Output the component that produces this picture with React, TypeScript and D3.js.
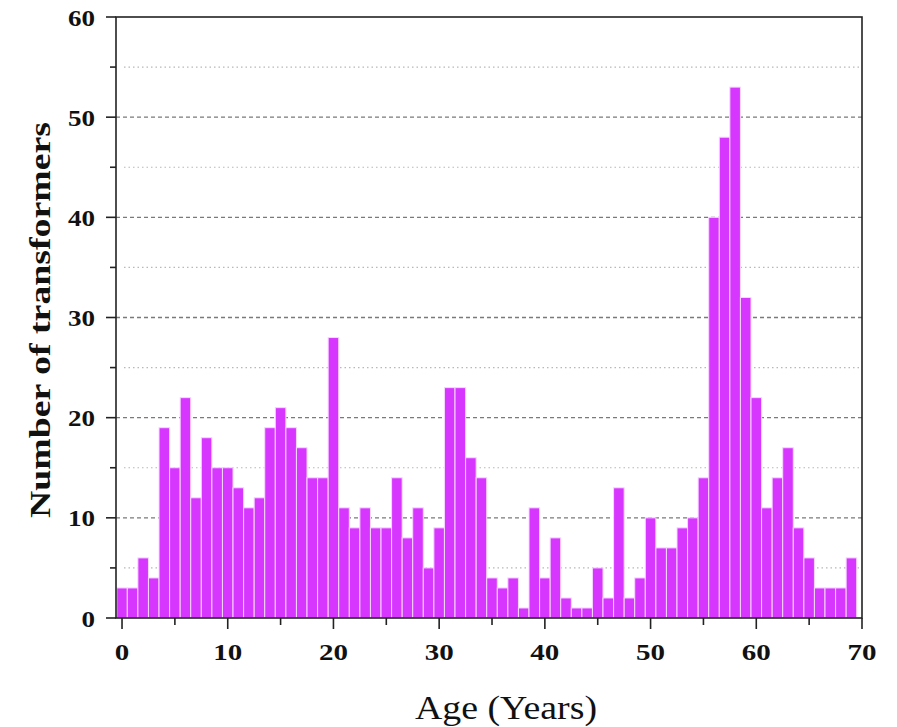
import React from "react";
import * as d3 from "d3";

// Transformer counts by age in years (ages 0..69)
const ages: number[] = d3.range(0, 70);
const counts: number[] = [
  3, 3, 6, 4, 19, 15, 22, 12, 18, 15,
  15, 13, 11, 12, 19, 21, 19, 17, 14, 14,
  28, 11, 9, 11, 9, 9, 14, 8, 11, 5,
  9, 23, 23, 16, 14, 4, 3, 4, 1, 11,
  4, 8, 2, 1, 1, 5, 2, 13, 2, 4,
  10, 7, 7, 9, 10, 14, 40, 48, 53, 32,
  22, 11, 14, 17, 9, 6, 3, 3, 3, 6,
];
const xTicks: number[] = [0, 10, 20, 30, 40, 50, 60, 70];
const xMinorTicks: number[] = [5, 15, 25, 35, 45, 55, 65];
const yTicks: number[] = [0, 10, 20, 30, 40, 50, 60];
const yMinorTicks: number[] = [5, 15, 25, 35, 45, 55];

const W = 897;
const H = 727;
const plot = { left: 116, right: 862, top: 17, bottom: 618 };
const barColor = "#D736FF";
const serif = "'Liberation Serif', 'Times New Roman', serif";

export default function App() {
  const x = d3.scaleLinear().domain([-0.57, 70]).range([plot.left, plot.right]);
  const y = d3.scaleLinear().domain([0, 60]).range([plot.bottom, plot.top]);

  return (
    <svg
      width={W}
      height={H}
      style={{ position: "absolute", left: 0, top: 0, background: "#fff" }}
    >
      <defs>
        <clipPath id="plotClip">
          <rect x={plot.left} y={plot.top} width={plot.right - plot.left} height={plot.bottom - plot.top} />
        </clipPath>
      </defs>

      {/* grid */}
      {yMinorTicks.map((v) => (
        <line
          key={"gm" + v}
          x1={plot.left + 8}
          x2={plot.right}
          y1={y(v)}
          y2={y(v)}
          stroke="#b8b8b8"
          strokeWidth={1.2}
          strokeDasharray="1.5,3"
        />
      ))}
      {yTicks
        .filter((v) => v > 0 && v < 60)
        .map((v) => (
          <line
            key={"gM" + v}
            x1={plot.left}
            x2={plot.right}
            y1={y(v)}
            y2={y(v)}
            stroke="#7a7a7a"
            strokeWidth={1.3}
            strokeDasharray="4,3"
          />
        ))}

      {/* bars */}
      <g clipPath="url(#plotClip)">
        {ages.map((a, i) => (
          <rect
            key={a}
            x={x(a - 0.5)}
            y={y(counts[i])}
            width={x(a + 0.5) - x(a - 0.5)}
            height={y(0) - y(counts[i])}
            fill={barColor}
            stroke="#f6d8ff"
            strokeWidth={1}
          />
        ))}
      </g>

      {/* frame */}
      <rect
        x={plot.left}
        y={plot.top}
        width={plot.right - plot.left}
        height={plot.bottom - plot.top}
        fill="none"
        stroke="#222"
        strokeWidth={1.6}
      />

      {/* y axis ticks */}
      {yTicks.map((v) => (
        <g key={"yt" + v}>
          <line x1={plot.left - 10} x2={plot.left} y1={y(v)} y2={y(v)} stroke="#222" strokeWidth={1.6} />
          <text
            x={95}
            y={y(v)}
            dy="0.36em"
            textAnchor="end"
            fontFamily={serif}
            fontWeight="bold"
            fontSize={24}
            textLength={String(v).length * 13.5}
            lengthAdjust="spacingAndGlyphs"
            fill="#111"
          >
            {v}
          </text>
        </g>
      ))}
      {yMinorTicks.map((v) => (
        <line key={"ym" + v} x1={plot.left - 6} x2={plot.left} y1={y(v)} y2={y(v)} stroke="#222" strokeWidth={1.6} />
      ))}

      {/* x axis ticks */}
      {xTicks.map((v) => (
        <g key={"xt" + v}>
          <line x1={x(v)} x2={x(v)} y1={plot.bottom} y2={plot.bottom + 11} stroke="#222" strokeWidth={1.6} />
          <text
            x={x(v)}
            y={660}
            textAnchor="middle"
            fontFamily={serif}
            fontWeight="bold"
            fontSize={24}
            textLength={String(v).length * 14.5}
            lengthAdjust="spacingAndGlyphs"
            fill="#111"
          >
            {v}
          </text>
        </g>
      ))}
      {xMinorTicks.map((v) => (
        <line key={"xm" + v} x1={x(v)} x2={x(v)} y1={plot.bottom} y2={plot.bottom + 7} stroke="#222" strokeWidth={1.6} />
      ))}

      {/* axis titles */}
      <text
        transform={`translate(50, 320) rotate(-90)`}
        textAnchor="middle"
        fontFamily={serif}
        fontWeight="bold"
        fontSize={30}
        textLength={396}
        lengthAdjust="spacingAndGlyphs"
        fill="#111"
      >
        Number of transformers
      </text>
      <text
        x={506}
        y={719}
        textAnchor="middle"
        fontFamily={serif}
        fontSize={34}
        textLength={182}
        lengthAdjust="spacingAndGlyphs"
        fill="#111"
      >
        Age (Years)
      </text>
    </svg>
  );
}
